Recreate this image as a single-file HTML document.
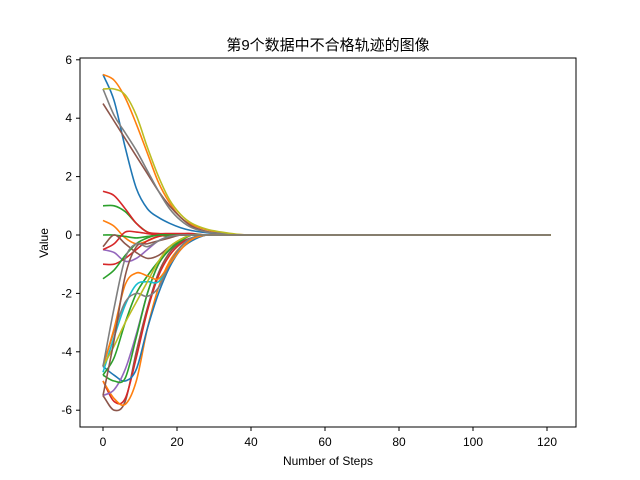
<!DOCTYPE html>
<html><head><meta charset="utf-8"><style>
html,body{margin:0;padding:0;background:#fff;}
svg{display:block;font-family:"Liberation Sans","Noto Sans CJK SC",sans-serif;}
</style></head><body>
<svg id="chart" width="640" height="480" viewBox="0 0 640 480">
<rect width="640" height="480" fill="#fff"/>
<g id="plot"></g>
<rect x="80" y="58" width="496" height="369" fill="none" stroke="#000" stroke-width="1"/>
<g id="xt"></g>
<g id="yt"></g>
<text x="328" y="50" text-anchor="middle" font-size="15">第9个数据中不合格轨迹的图像</text>
<text x="328" y="465" text-anchor="middle" font-size="12">Number of Steps</text>
<text x="0" y="0" transform="translate(48,243) rotate(-90)" text-anchor="middle" font-size="12">Value</text>
</svg>
<script>
const steps=[0,3,6,9,12,15,18,21,24,28,32,36,40,121];
const xTicks=[0,20,40,60,80,100,120];
const yTicks=[-6,-4,-2,0,2,4,6];
const colors=["#1f77b4","#ff7f0e","#2ca02c","#d62728","#9467bd","#8c564b","#e377c2","#7f7f7f","#bcbd22","#17becf"];
const s01=[5.5,4.6,3.0,1.6,0.9,0.6,0.4,0.25,0.15,0.08,0.03,0,0,0];
const s02=[5.0,5.0,4.8,4.1,3.0,2.0,1.2,0.7,0.4,0.2,0.1,0.03,0,0];
const s03=[5.5,5.3,4.7,3.8,2.8,1.8,1.1,0.6,0.35,0.18,0.08,0.02,0,0];
const s04=[5.0,4.1,3.5,2.9,2.2,1.5,0.9,0.5,0.25,0.1,0.05,0,0,0];
const s05=[4.5,3.9,3.3,2.7,2.1,1.5,1.0,0.6,0.3,0.12,0.05,0,0,0];
const s06=[1.5,1.35,0.9,0.4,0.1,0.05,0.05,0.05,0.05,0,0,0,0,0];
const s07=[1.0,1.0,0.8,0.4,0.1,0,-0.05,0,0,0,0,0,0,0];
const s08=[0.5,0.3,-0.1,-0.3,-0.2,-0.05,0,0,0,0,0,0,0,0];
const s09=[0,0,-0.05,-0.1,-0.05,0,0,0,0,0,0,0,0,0];
const s10=[-0.5,-0.3,0.1,0.1,0.05,0,0,0,0,0,0,0,0,0];
const s11=[-0.5,-0.6,-0.9,-0.8,-0.5,-0.2,-0.05,0,0,0,0,0,0,0];
const s12=[-1.0,-1.0,-0.8,-0.5,-0.2,-0.05,0,0,0,0,0,0,0,0];
const s13=[-1.5,-1.2,-0.7,-0.3,-0.1,0,0,0,0,0,0,0,0,0];
const s14=[-0.4,0,-0.3,-0.6,-0.8,-0.7,-0.4,-0.15,0,0,0,0,0,0];
const s15=[-5.5,-6.0,-5.7,-4.0,-2.5,-1.3,-0.6,-0.25,-0.1,0,0,0,0,0];
const s16=[-5.0,-5.7,-5.6,-4.2,-2.6,-1.4,-0.7,-0.3,-0.1,0,0,0,0,0];
const s17=[-5.0,-5.6,-5.8,-5.0,-3.2,-1.8,-0.9,-0.4,-0.15,0,0,0,0,0];
const s18=[-4.5,-4.8,-5.0,-4.6,-3.2,-2.0,-1.1,-0.5,-0.2,0,0,0,0,0];
const s19=[-5.5,-5.3,-4.6,-3.4,-2.0,-1.0,-0.5,-0.2,0,0,0,0,0,0];
const s20=[-4.8,-5.0,-4.9,-3.5,-2.0,-1.0,-0.5,-0.2,0,0,0,0,0,0];
const s21=[-4.8,-4.2,-3.0,-2.0,-1.4,-0.9,-0.5,-0.2,0,0,0,0,0,0];
const s22=[-4.7,-3.5,-2.4,-1.7,-1.6,-1.6,-1.0,-0.4,-0.1,0,0,0,0,0];
const s23=[-4.5,-3.3,-2.3,-2.0,-2.1,-1.8,-1.0,-0.4,-0.1,0,0,0,0,0];
const s24=[-4.5,-3.2,-1.7,-1.3,-1.4,-1.5,-1.0,-0.5,-0.15,0,0,0,0,0];
const s25=[-4.5,-3.8,-3.0,-2.3,-1.6,-0.9,-0.4,-0.15,0,0,0,0,0,0];
const s26=[-5.5,-3.6,-1.4,-0.4,-0.3,-0.2,-0.1,0,0,0,0,0,0,0];
const s27=[-4.5,-2.5,-0.8,-0.3,-0.4,-0.2,-0.05,0,0,0,0,0,0,0];
const series=[s01,s03,s07,s06,s11,s05,s04,s02,s08,s09,s10,s14,s12,s13,s15,s16,s17,s18,s19,s20,s21,s22,s23,s24,s25,s26,s27];
const seriesColors=[0,1,2,3,4,5,7,8,1,2,3,5,3,2,5,3,1,0,4,2,2,9,7,1,8,5,7];
const X=v=>103+v*3.7, Y=v=>235-v*29.2;
const NS="http://www.w3.org/2000/svg";
function smooth(xs,ys){const n=xs.length,m=[];
 for(let i=0;i<n;i++){
  if(i===0)m[i]=(ys[1]-ys[0])/(xs[1]-xs[0]);
  else if(i===n-1||i===n-2&&xs[n-1]-xs[n-2]>60)m[i]=(i===n-1)?0:0;
  else m[i]=(ys[i+1]-ys[i-1])/(xs[i+1]-xs[i-1]);
 }
 let p="M"+xs[0]+","+ys[0];
 for(let i=0;i<n-1;i++){const h=(xs[i+1]-xs[i])/3;
  p+=" C"+(xs[i]+h)+","+(ys[i]+m[i]*h)+" "+(xs[i+1]-h)+","+(ys[i+1]-m[i+1]*h)+" "+xs[i+1]+","+ys[i+1];}
 return p;}
const plot=document.getElementById('plot');
series.forEach((s,k)=>{
 const xs=steps.map(X), ys=s.map(Y);
 const p=document.createElementNS(NS,'path');
 p.setAttribute('d',smooth(xs,ys));
 p.setAttribute('fill','none');
 p.setAttribute('stroke',colors[seriesColors[k]]);
 p.setAttribute('stroke-width','1.6');
 
 
 plot.appendChild(p);
});
const xt=document.getElementById('xt');
xTicks.forEach(t=>{
 const l=document.createElementNS(NS,'line');
 l.setAttribute('x1',X(t));l.setAttribute('x2',X(t));l.setAttribute('y1',427);l.setAttribute('y2',431);l.setAttribute('stroke','#000');
 
 
 xt.appendChild(l);
 const tx=document.createElementNS(NS,'text');
 tx.setAttribute('x',X(t));tx.setAttribute('y',446);tx.setAttribute('text-anchor','middle');tx.setAttribute('font-size','12');
 tx.textContent=t;
 
 
 xt.appendChild(tx);
});
const yt=document.getElementById('yt');
yTicks.forEach(t=>{
 const l=document.createElementNS(NS,'line');
 l.setAttribute('x1',76);l.setAttribute('x2',80);l.setAttribute('y1',Y(t));l.setAttribute('y2',Y(t));l.setAttribute('stroke','#000');
 
 
 yt.appendChild(l);
 const tx=document.createElementNS(NS,'text');
 tx.setAttribute('x',72);tx.setAttribute('y',Y(t)+4);tx.setAttribute('text-anchor','end');tx.setAttribute('font-size','12');
 tx.textContent=t;
 
 
 yt.appendChild(tx);
});
</script>
</body></html>
